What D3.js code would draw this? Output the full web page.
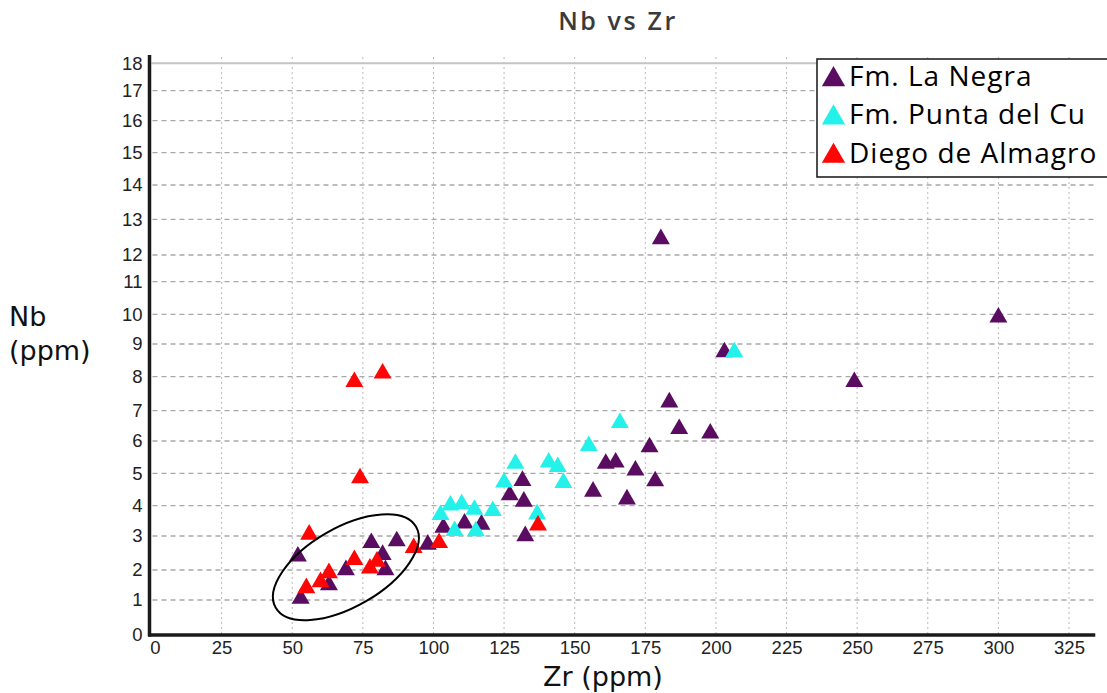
<!DOCTYPE html>
<html><head><meta charset="utf-8">
<script src="https://cdn.jsdelivr.net/npm/d3@7"></script>
<style>body{margin:0;background:#fff;} svg{display:block;}</style>
</head><body><svg id="c" width="1107" height="693"></svg>
<script>
// ---------- data ----------
const xTicks = [0,25,50,75,100,125,150,175,200,225,250,275,300,325];
const yTicks = [0,1,2,3,4,5,6,7,8,9,10,11,12,13,14,15,16,17,18];
const seriesNames = ["Fm. La Negra","Fm. Punta del Cu","Diego de Almagro"];

const laNegraZr = [52,53,63,69,78,82,83,87,98,103.5,111,117,127,131.5,132,132.5,156.5,161,164.5,168.5,171.5,176.5,178.5,180.5,183.5,187,198,203,249,300];
const laNegraNb = [2.4,1.05,1.5,2.0,2.8,2.45,2.0,2.85,2.75,3.28,3.42,3.38,4.33,4.77,4.13,3.0,4.44,5.3,5.34,4.2,5.09,5.81,4.76,12.45,7.25,6.4,6.25,8.75,7.85,9.9];

const puntaZr = [102.5,106,110,114.5,121,107.5,115,125,129,136.7,140.8,144,146,155,166,206.5];
const puntaNb = [3.7,4.01,4.05,3.87,3.83,3.17,3.16,4.72,5.3,3.72,5.34,5.2,4.71,5.85,6.6,8.75];

const almagroZr = [55,56,60,63,72,77.5,80,93,102,137,72,82,74];
const almagroNb = [1.4,3.05,1.6,1.9,2.3,2.05,2.25,2.65,2.8,3.35,7.85,8.1,4.85];

// highlighted group (ellipse annotation), in data units
const ellipseCenter = [69, 2.08];

// ---------- layout ----------
const colors = ["#5a0c61", "#24f1ea", "#ff0505"];
const svg = d3.select("#c");

const x = d3.scaleLinear().domain([0, 325]).range([151, 1069]);
// the reference's y gridlines are slightly irregular: piecewise linear scale
const y = d3.scaleLinear().domain(yTicks)
  .range([635,600,570,536,505.7,473.3,441,410.7,376.7,344,314.3,281.7,255,219.3,185,152.7,120.7,90.7,63.3]);

const xEnd = x(334.3), yTop = 55, axisY = 635, axisX = 149.5;

// grid: vertical dotted
svg.append("g").selectAll("line").data(xTicks.slice(1)).join("line")
  .attr("x1", d => x(d)).attr("x2", d => x(d))
  .attr("y1", yTop + 2).attr("y2", axisY - 1)
  .attr("stroke", "#b9b9b9").attr("stroke-width", 1).attr("stroke-dasharray", "2,3");
// horizontal dashed
svg.append("g").selectAll("line").data(yTicks.slice(1, -1)).join("line")
  .attr("x1", axisX + 3).attr("x2", xEnd)
  .attr("y1", d => y(d)).attr("y2", d => y(d))
  .attr("stroke", "#a8a8a8").attr("stroke-width", 1.3).attr("stroke-dasharray", "5,4");
// top solid line at max
svg.append("line").attr("x1", axisX + 2).attr("x2", xEnd)
  .attr("y1", y(18)).attr("y2", y(18))
  .attr("stroke", "#c4c4c4").attr("stroke-width", 2);

// axes labels via d3 axes
const fontTick = "'Liberation Sans', Arial, sans-serif";
const gx = svg.append("g").attr("transform", `translate(0,${axisY})`)
  .call(d3.axisBottom(x).tickValues(xTicks).tickSize(0).tickPadding(6).tickFormat(d3.format("d")));
gx.select(".domain").remove();
gx.selectAll("text").attr("font-family", fontTick).attr("font-size", 18.5).attr("fill", "#222");
gx.selectAll(".tick").filter(d => d === 0).select("text").attr("dx", 4);

const gy = svg.append("g").attr("transform", `translate(${axisX - 6},0)`)
  .call(d3.axisLeft(y).tickValues(yTicks).tickSize(0).tickPadding(1).tickFormat(d3.format("d")));
gy.select(".domain").remove();
gy.selectAll("text").attr("font-family", fontTick).attr("font-size", 18.5).attr("fill", "#222");

// axis lines
svg.append("line").attr("x1", axisX).attr("x2", axisX).attr("y1", yTop).attr("y2", axisY + 1.5)
  .attr("stroke", "#1a1a1a").attr("stroke-width", 3.5);
svg.append("line").attr("x1", axisX - 1.5).attr("x2", xEnd).attr("y1", axisY).attr("y2", axisY)
  .attr("stroke", "#1a1a1a").attr("stroke-width", 3.5);

// points
const tri = d3.symbol().type(d3.symbolTriangle).size(140);
const series = [
  {zr: laNegraZr, nb: laNegraNb},
  {zr: puntaZr, nb: puntaNb},
  {zr: almagroZr, nb: almagroNb}
];
series.forEach((s, i) => {
  svg.append("g").selectAll("path").data(s.zr.map((z, k) => [z, s.nb[k]])).join("path")
    .attr("d", tri)
    .attr("transform", d => `translate(${x(d[0])},${y(d[1])})`)
    .attr("fill", colors[i]);
});

// ellipse annotation
svg.append("ellipse")
  .attr("transform", `translate(${x(ellipseCenter[0])},${y(ellipseCenter[1])}) rotate(-30)`)
  .attr("rx", 81).attr("ry", 39.5)
  .attr("fill", "none").attr("stroke", "#000").attr("stroke-width", 2);

// title
svg.append("text").attr("x", 618).attr("y", 30).attr("text-anchor", "middle")
  .attr("font-family", "'Open Sans', sans-serif").attr("font-weight", 600)
  .attr("font-size", 25).attr("letter-spacing", 2.6).attr("fill", "#3a3a3a")
  .text("Nb vs Zr");

// axis titles
const fontAxis = "'DejaVu Sans', sans-serif";
svg.append("text").attr("x", 603).attr("y", 686).attr("text-anchor", "middle")
  .attr("font-family", fontAxis).attr("font-size", 27)
  .attr("fill", "#111").text("Zr (ppm)");
svg.append("text").attr("x", 9).attr("y", 326).attr("font-family", fontAxis)
  .attr("font-size", 27).attr("fill", "#111").text("Nb");
svg.append("text").attr("x", 9).attr("y", 360).attr("font-family", fontAxis)
  .attr("font-size", 27).attr("fill", "#111").text("(ppm)");

// legend
const fontLeg = "'Open Sans', 'Noto Sans', sans-serif";
const lg = svg.append("g");
lg.append("rect").attr("x", 817).attr("y", 59).attr("width", 300).attr("height", 118)
  .attr("fill", "#fff").attr("stroke", "#222").attr("stroke-width", 1.6);
const legTri = d3.symbol().type(d3.symbolTriangle).size(235);
const legY = [86, 124.3, 162.6];
seriesNames.forEach((n, i) => {
  lg.append("path").attr("d", legTri)
    .attr("transform", `translate(833.5,${legY[i] - 6.5})`).attr("fill", colors[i]);
  lg.append("text").attr("x", 849).attr("y", legY[i])
    .attr("font-family", fontLeg).attr("font-size", 28).attr("letter-spacing", 1.0)
    .attr("fill", "#000").text(n);
});
</script>
</body></html>
